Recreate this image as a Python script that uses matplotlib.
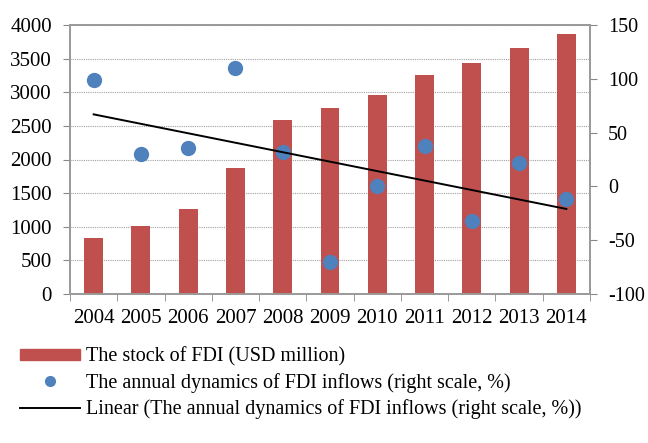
import numpy as np
import matplotlib.pyplot as plt
from matplotlib.lines import Line2D
from matplotlib.patches import Patch

plt.rcParams['font.family'] = ['Liberation Serif', 'DejaVu Serif']
plt.rcParams['axes.unicode_minus'] = False

years = ['2004', '2005', '2006', '2007', '2008', '2009', '2010', '2011', '2012', '2013', '2014']
fdi_stock = [840, 1010, 1270, 1870, 2590, 2770, 2960, 3260, 3440, 3660, 3870]  # USD million
fdi_dyn = [99, 30, 36, 110, 32, -70, 0, 38, -32, 22, -12]  # right scale, %

x = np.arange(len(years))
# linear trend of the annual dynamics
k, b = np.polyfit(x, fdi_dyn, 1)
trend = k * x + b

fig = plt.figure(figsize=(6.48, 4.43), dpi=100)
ax = fig.add_axes([70 / 648, 1 - 294 / 443, 520 / 648, 269 / 443])
ax2 = ax.twinx()

ax.bar(x, fdi_stock, width=0.4, color='#C0504D', zorder=2)
ax.set_xlim(-0.5, len(years) - 0.5)
ax.set_ylim(0, 4000)
ax.set_yticks(range(0, 4001, 500))
ax.yaxis.grid(True, linestyle=(0, (1, 1)), color='#a0a0a0', linewidth=0.8, zorder=0)
ax.set_axisbelow(True)
ax.set_xticks(x)
ax.set_xticklabels(years)
ax.set_xticks(np.arange(-0.5, len(years), 1), minor=True)
ax.tick_params(axis='x', which='major', length=0, pad=11)
ax.tick_params(axis='x', which='minor', length=5, direction='out', color='#888888')
ax.tick_params(axis='y', length=5, direction='out', color='#888888', pad=8)

ax2.scatter(x, fdi_dyn, s=100, color='#4F81BD', zorder=3)
ax2.plot(x, trend, color='black', linewidth=1.4, zorder=3)
ax2.set_ylim(-100, 150)
ax2.set_yticks(range(-100, 151, 50))
ax2.tick_params(axis='y', length=5, direction='out', color='#888888', pad=8)

for a in (ax, ax2):
    for s in a.spines.values():
        s.set_color('#999999')
        s.set_linewidth(1.2)
    a.tick_params(labelsize=15)
ax2.tick_params(labelsize=14.5)

handles = [
    Patch(color='#C0504D'),
    Line2D([], [], marker='o', linestyle='none', color='#4F81BD', markersize=7),
    Line2D([], [], color='black', linewidth=1.4),
]
labels = [
    'The stock of FDI (USD million)',
    'The annual dynamics of FDI inflows (right scale, %)',
    'Linear (The annual dynamics of FDI inflows (right scale, %))',
]
fig.legend(handles, labels, loc='upper left', bbox_to_anchor=(20 / 648, 1 - 347 / 443),
           frameon=False, fontsize=14.5, handlelength=3.0, handleheight=0.45,
           handletextpad=0.3, labelspacing=0.32, borderaxespad=0, borderpad=0)

fig.savefig('out.png', dpi=100)
